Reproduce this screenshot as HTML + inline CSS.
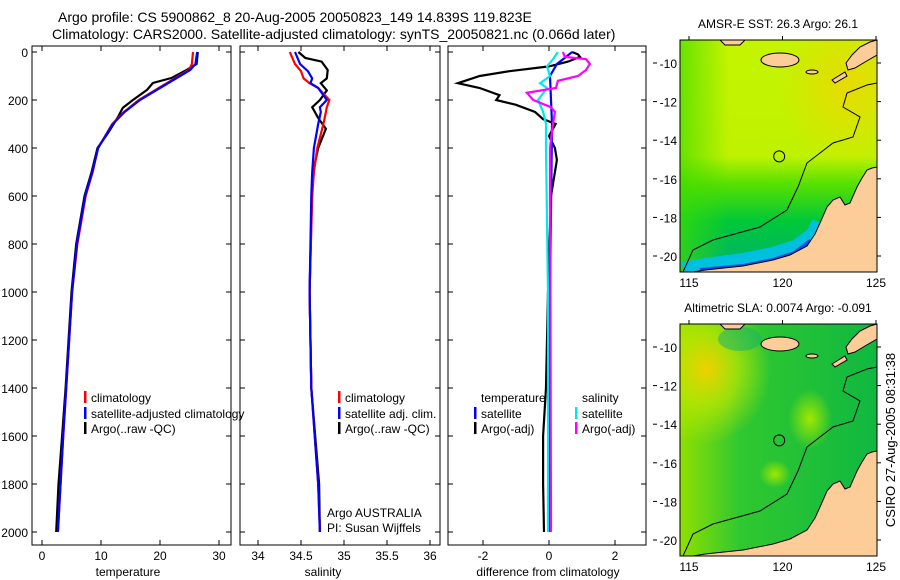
<!DOCTYPE html>
<html><head><meta charset="utf-8"><style>
body{margin:0;background:#fff}
svg{display:block;font-family:"Liberation Sans",sans-serif}
text{fill:#000}
</style></head><body>
<svg id="fig" width="900" height="580" viewBox="0 0 900 580" xmlns="http://www.w3.org/2000/svg">
<defs>
<linearGradient id="sstBase" x1="0" y1="0" x2="0" y2="1">
<stop offset="0" stop-color="#c4f400"/><stop offset="0.5" stop-color="#c0f200"/><stop offset="0.62" stop-color="#58e000"/><stop offset="0.78" stop-color="#00c838"/><stop offset="1" stop-color="#00b070"/></linearGradient>
<linearGradient id="sstLeft" x1="0" y1="0" x2="1" y2="0"><stop offset="0" stop-color="#40dc00" stop-opacity="0.7"/><stop offset="0.25" stop-color="#40dc00" stop-opacity="0"/></linearGradient>
<radialGradient id="sstOrange" cx="0.85" cy="0.2" r="0.35"><stop offset="0" stop-color="#f8d000" stop-opacity="0.7"/><stop offset="1" stop-color="#f8d000" stop-opacity="0"/></radialGradient>
<linearGradient id="slaBase" x1="0" y1="0" x2="1" y2="0"><stop offset="0" stop-color="#90e000"/><stop offset="0.3" stop-color="#30c830"/><stop offset="1" stop-color="#10b840"/></linearGradient>
<radialGradient id="slaYel" cx="0.2" cy="0.3" r="0.5"><stop offset="0" stop-color="#f0d000"/><stop offset="0.5" stop-color="#c0e800" stop-opacity="0.7"/><stop offset="1" stop-color="#c0e800" stop-opacity="0"/></radialGradient>
<radialGradient id="slaLight" cx="0.5" cy="0.5" r="0.5"><stop offset="0" stop-color="#a0e800"/><stop offset="1" stop-color="#a0e800" stop-opacity="0"/></radialGradient>
<clipPath id="mapClip"><rect x="680" y="40" width="197" height="232"/></clipPath>
<clipPath id="c1"><rect x="32" y="46" width="199" height="499"/></clipPath>
<clipPath id="c2"><rect x="240" y="46" width="200" height="499"/></clipPath>
<clipPath id="c3"><rect x="448" y="46" width="198" height="499"/></clipPath>
</defs>
<text x="58" y="22" font-size="14">Argo profile: CS 5900862_8 20-Aug-2005 20050823_149 14.839S 119.823E</text>
<text x="52" y="39" font-size="14">Climatology: CARS2000. Satellite-adjusted climatology: synTS_20050821.nc (0.066d later)</text>
<g id="panels"></g>
<g id="maps"></g>
<text transform="translate(895,440) rotate(-90)" text-anchor="middle" font-size="13">CSIRO 27-Aug-2005 08:31:38</text>
</svg>
<script>
// ---- data ----
const tDepth = [0,50,75,100,150,200,250,300,400,500,600,800,1000,1400,1600,2000];
const tempSat = [26.3,26.0,25.1,23.4,20.0,16.6,14.0,12.0,9.5,8.5,7.3,5.9,5.1,4.1,3.6,2.7];
const tempClim = [25.6,25.4,24.9,23.2,19.8,16.4,13.9,11.9,9.5,8.6,7.4,6.0,5.1,4.1,3.6,2.7];
const aDepth = [0,50,75,108,129,158,200,233,270,337,400,500,600,800,1000,1400,1600,1800,2000];
const tempArgo = [26.4,26.2,24.5,22.0,18.8,17.8,15.4,13.7,12.9,11.2,9.4,8.4,7.2,5.8,5.0,4.0,3.4,2.8,2.4];
const sDepth = [0,50,80,110,130,150,200,230,250,300,400,500,600,1000,1400,1800,2000];
const salSat = [34.43,34.49,34.58,34.63,34.61,34.70,34.80,34.72,34.73,34.70,34.65,34.63,34.62,34.60,34.62,34.70,34.72];
const salClim = [34.37,34.43,34.50,34.53,34.60,34.70,34.83,34.80,34.79,34.76,34.69,34.65,34.63,34.60,34.62,34.70,34.72];
const sArgoDepth = [0,25,40,75,110,130,160,200,230,275,320,400,500,700,1000,1400,1800,2000];
const salArgo = [34.47,34.55,34.74,34.81,34.80,34.73,34.80,34.72,34.63,34.70,34.79,34.70,34.64,34.62,34.60,34.62,34.71,34.72];
const dDepth = [0,10,20,40,60,80,100,130,150,180,200,220,250,280,300,350,400,450,600,1000,1400,1600,1800,2000];
const dTempArgo = [0.70,0.88,0.94,0.58,0.0,-1.2,-2.1,-2.76,-2.1,-1.5,-1.6,-1.0,-0.42,-0.18,0.2,0.0,0.18,0.24,0.06,-0.03,-0.09,-0.18,-0.18,-0.15];
const d2Depth = [0,20,50,100,200,300,1000,2000];
const dTempSat = [0.7,0.52,0.24,0.03,0.06,0.09,0.03,0.03];
const d3Depth = [0,30,60,100,130,150,200,250,300,400,1000,2000];
const dSalSat = [0.27,0.12,-0.06,0.03,-0.27,-0.06,-0.33,-0.18,-0.09,-0.09,-0.03,-0.03];
const d4Depth = [0,20,30,50,75,100,120,150,170,200,230,250,300,400,2000];
const dSalArgo = [0.42,0.48,1.12,1.24,1.12,0.88,0.27,0.21,-0.67,-0.48,0.06,0.18,0.12,0.03,0.06];
const depthTicks = [0,200,400,600,800,1000,1200,1400,1600,1800,2000];
const tempTicks = [0,10,20,30];
const salTicks = [34,34.5,35,35.5,36];
const salTickLabels = ["34","34.5","35","35.5","36"];
const diffTicks = [-2,0,2];
const latTicks = [-10,-12,-14,-16,-18,-20];
const lonTicks = [115,120,125];

const NS="http://www.w3.org/2000/svg";
function mk(tag,attrs,parent){const e=document.createElementNS(NS,tag);for(const k in attrs)e.setAttribute(k,attrs[k]);parent.appendChild(e);return e;}
const yDepth = d => 52 + d*0.24;
const P = document.getElementById('panels');

const panels = [
 {x0:32,x1:231,name:'temperature',xs:v=>42+v*5.9,ticks:tempTicks,labels:tempTicks.map(String),label:'temperature',lx:128,clip:'c1'},
 {x0:240,x1:440,name:'salinity',xs:v=>258+(v-34)*86,ticks:salTicks,labels:salTickLabels,label:'salinity',lx:323,clip:'c2'},
 {x0:448,x1:646,name:'difference',xs:v=>549+v*33,ticks:diffTicks,labels:diffTicks.map(String),label:'difference from climatology',lx:548,clip:'c3'}
];
panels.forEach((p,i)=>{
  const g=mk('g',{},P);
  
  
  const r=mk('rect',{x:p.x0,y:46,width:p.x1-p.x0,height:499,fill:'none',stroke:'#000','stroke-width':1},g);
  
  
  depthTicks.forEach(d=>{
    const y=yDepth(d);
    mk('line',{x1:p.x0,x2:p.x0+5,y1:y,y2:y,stroke:'#000'},g);
    mk('line',{x1:p.x1,x2:p.x1-5,y1:y,y2:y,stroke:'#000'},g);
    if(i===0){const t=mk('text',{x:28,y:y+5,'text-anchor':'end','font-size':12},g);t.textContent=d;
      
      }
  });
  p.ticks.forEach((v,k)=>{
    const x=p.xs(v);
    mk('line',{x1:x,x2:x,y1:46,y2:51,stroke:'#000'},g);
    mk('line',{x1:x,x2:x,y1:545,y2:540,stroke:'#000'},g);
    const t=mk('text',{x:x,y:560,'text-anchor':'middle','font-size':12},g);t.textContent=p.labels[k];
    
    
  });
  const al=mk('text',{x:p.lx,y:576,'text-anchor':'middle','font-size':12},g);al.textContent=p.label;
  
  
});
function line(pi,depths,vals,color,name){
  const p=panels[pi];
  const pts=depths.map((d,k)=>p.xs(vals[k]).toFixed(1)+','+yDepth(d).toFixed(1)).join(' ');
  const l=mk('polyline',{points:pts,fill:'none',stroke:color,'stroke-width':2.2,'clip-path':'url(#'+p.clip+')'},P);
  
  
}
line(0,aDepth,tempArgo,'#000','temp-argo-line');
line(0,tDepth,tempClim,'#f00','temp-climatology-line');
line(0,tDepth,tempSat,'#00f','temp-satellite-line');
line(1,sArgoDepth,salArgo,'#000','sal-argo-line');
line(1,sDepth,salClim,'#f00','sal-climatology-line');
line(1,sDepth,salSat,'#00f','sal-satellite-line');
line(2,dDepth,dTempArgo,'#000','diff-temp-argo-line');
line(2,d2Depth,dTempSat,'#00f','diff-temp-satellite-line');
line(2,d3Depth,dSalSat,'#00e8f0','diff-sal-satellite-line');
line(2,d4Depth,dSalArgo,'#f0f','diff-sal-argo-line');

function legend(x,y,color,label,name){
  const g=mk('g',{},P);
  
  
  if(color) mk('rect',{x:x,y:y-11,width:2.5,height:12,fill:color},g);
  const t=mk('text',{x:x+7,y:y,'font-size':12},g);t.textContent=label;
}
legend(84,402,'#f00','climatology','legend-climatology');
legend(84,418,'#00f','satellite-adjusted climatology','legend-satellite-adjusted');
legend(84,433,'#000','Argo(..raw -QC)','legend-argo-raw');
legend(338,402,'#f00','climatology','legend-sal-climatology');
legend(338,418,'#00f','satellite adj. clim.','legend-sal-satellite');
legend(338,433,'#000','Argo(..raw -QC)','legend-sal-argo');
legend(474,402,null,'temperature','legend-temperature-header');
legend(474,418,'#00f','satellite','legend-diff-temp-satellite');
legend(474,433,'#000','Argo(-adj)','legend-diff-temp-argo');
legend(575,402,null,'salinity','legend-salinity-header');
legend(575,418,'#00e8f0','satellite','legend-diff-sal-satellite');
legend(575,433,'#f0f','Argo(-adj)','legend-diff-sal-argo');
const n1=mk('text',{x:327,y:517,'font-size':12},P);n1.textContent='Argo AUSTRALIA';


const n2=mk('text',{x:327,y:532,'font-size':12},P);n2.textContent='PI: Susan Wijffels';



// ---- maps ----
const M=document.getElementById('maps');
const lonX = lon => 689 + (lon-115)*18.7;
const latY = lat => 63 + (-10-lat)*19.3;
const coast="693,272 705,270 743,266 773,260 790,255 807,246 815,234 820,223 827,207 833,200 840,197 845,205 850,203 857,187 862,178 867,170 872,168 877,167 877,272";
const isobath="683,272 693,250 713,240 760,227 787,210 798,187 807,163 833,143 853,137 860,117 843,107 847,93 867,85 877,83";
function drawMap(dy,title,kind){
  const g=mk('g',{transform:'translate(0,'+dy+')'},M);
  
  
  const inner=mk('g',{'clip-path':'url(#mapClip)'},g);
  if(kind==='sst'){
    mk('rect',{x:680,y:40,width:197,height:232,fill:'url(#sstBase)'},inner);
    mk('rect',{x:680,y:40,width:197,height:232,fill:'url(#sstLeft)'},inner);
    mk('rect',{x:680,y:40,width:197,height:232,fill:'url(#sstOrange)'},inner);
    mk('polyline',{points:"683,268 705,264 743,259 773,253 795,246 812,234 818,222",fill:'none',stroke:'#00c0e0','stroke-width':12},inner);
    mk('polyline',{points:"700,272 743,268 773,262 795,255 812,242",fill:'none',stroke:'#0050f0','stroke-width':8},inner);
  } else {
    mk('rect',{x:680,y:40,width:197,height:232,fill:'url(#slaBase)'},inner);
    mk('rect',{x:680,y:40,width:130,height:150,fill:'url(#slaYel)'},inner);
    mk('ellipse',{cx:810,cy:135,rx:22,ry:30,fill:'url(#slaLight)'},inner);
    mk('ellipse',{cx:775,cy:190,rx:16,ry:14,fill:'url(#slaLight)'},inner);
    mk('ellipse',{cx:740,cy:55,rx:22,ry:12,fill:'#10b070',opacity:0.5},inner);
  }
  mk('polygon',{points:coast,fill:'#fccc99',stroke:'#000','stroke-width':1},inner);
  mk('ellipse',{cx:780,cy:60,rx:19,ry:7,fill:'#fccc99',stroke:'#000'},inner);
  mk('polygon',{points:"846,63 852,55 860,47 870,42 877,40 877,55 865,62 855,68 848,70",fill:'#fccc99',stroke:'#000'},inner);
  mk('polygon',{points:"720,40 745,40 740,45 725,45",fill:'#fccc99',stroke:'#000'},inner);
  mk('polygon',{points:"832,80 845,72 847,76 835,83",fill:'#fccc99',stroke:'#000'},inner);
  mk('ellipse',{cx:812,cy:72,rx:6,ry:2,fill:'#fccc99',stroke:'#000'},inner);
  mk('polyline',{points:isobath,fill:'none',stroke:'#000','stroke-width':1},inner);
  const c=mk('circle',{cx:lonX(119.823),cy:latY(-14.839),r:5.5,fill:'none',stroke:'#000'},g);
  
  
  mk('rect',{x:680,y:40,width:197,height:232,fill:'none',stroke:'#000'},g);
  latTicks.forEach(l=>{const y=latY(l);
    mk('line',{x1:653,x2:657,y1:y,y2:y,stroke:'#000'},g);
    mk('line',{x1:877,x2:881,y1:y,y2:y,stroke:'#000'},g);
    const t=mk('text',{x:677,y:y+5,'text-anchor':'end','font-size':12},g);t.textContent=l;
    
    });
  lonTicks.forEach(l=>{const x=lonX(l);
    mk('line',{x1:x,x2:x,y1:36,y2:40,stroke:'#000'},g);
    const t=mk('text',{x:x,y:287,'text-anchor':'middle','font-size':12},g);t.textContent=l;
    
    });
  const tt=mk('text',{x:778,y:28,'text-anchor':'middle','font-size':12},g);tt.textContent=title;
  
  
}
drawMap(0,'AMSR-E SST: 26.3 Argo: 26.1','sst');
drawMap(284,'Altimetric SLA: 0.0074 Argo: -0.091','sla');
</script>
</body></html>
